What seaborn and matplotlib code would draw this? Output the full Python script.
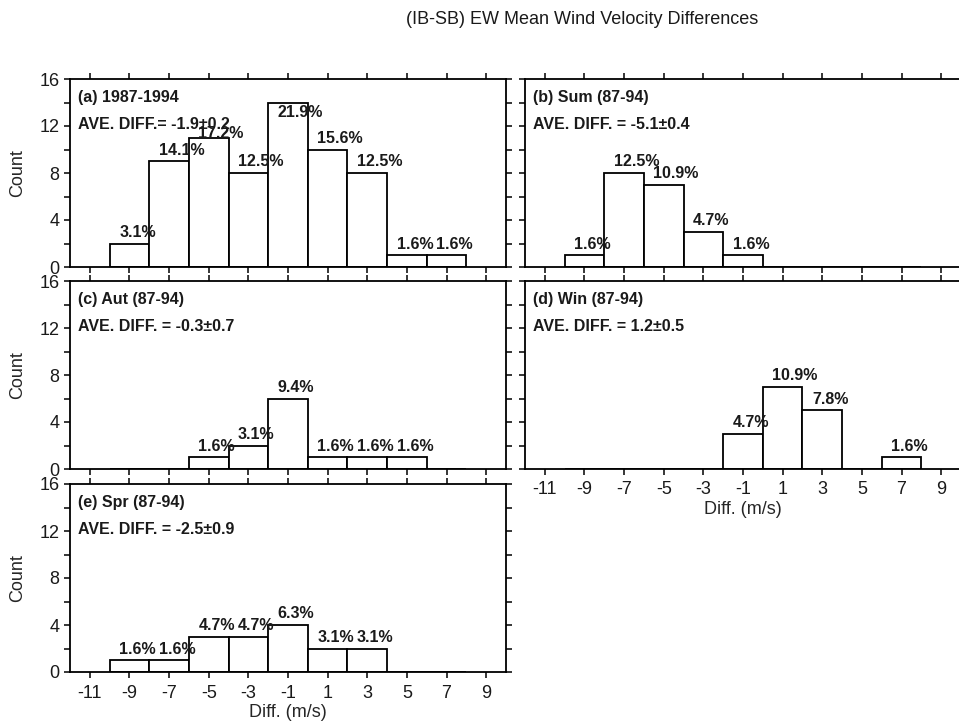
import numpy as np
import pandas as pd
import matplotlib
matplotlib.use("Agg")
import matplotlib.pyplot as plt
import seaborn as sns

# ---------------- data ----------------
title = "(IB-SB) EW Mean Wind Velocity Differences"
bin_edges = [-10, -8, -6, -4, -2, 0, 2, 4, 6, 8]

a_centers = [-9, -7, -5, -3, -1, 1, 3, 5, 7]
a_counts = [2, 9, 11, 8, 14, 10, 8, 1, 1]
a_pcts = ["3.1%", "14.1%", "17.2%", "12.5%", "21.9%", "15.6%", "12.5%", "1.6%", "1.6%"]

b_centers = [-9, -7, -5, -3, -1]
b_counts = [1, 8, 7, 3, 1]
b_pcts = ["1.6%", "12.5%", "10.9%", "4.7%", "1.6%"]

c_centers = [-5, -3, -1, 1, 3, 5]
c_counts = [1, 2, 6, 1, 1, 1]
c_pcts = ["1.6%", "3.1%", "9.4%", "1.6%", "1.6%", "1.6%"]

d_centers = [-1, 1, 3, 7]
d_counts = [3, 7, 5, 1]
d_pcts = ["4.7%", "10.9%", "7.8%", "1.6%"]

e_centers = [-9, -7, -5, -3, -1, 1, 3]
e_counts = [1, 1, 3, 3, 4, 2, 2]
e_pcts = ["1.6%", "1.6%", "4.7%", "4.7%", "6.3%", "3.1%", "3.1%"]

panel_titles = ["(a) 1987-1994", "(b) Sum (87-94)", "(c) Aut (87-94)",
                "(d) Win (87-94)", "(e) Spr (87-94)"]
ave_texts = ["AVE. DIFF.= -1.9\u00b10.2", "AVE. DIFF. = -5.1\u00b10.4",
             "AVE. DIFF. = -0.3\u00b10.7", "AVE. DIFF. = 1.2\u00b10.5",
             "AVE. DIFF. = -2.5\u00b10.9"]
x_ticks = [-11, -9, -7, -5, -3, -1, 1, 3, 5, 7, 9]
y_ticks = [0, 4, 8, 12, 16]
y_minor = [2, 6, 10, 14]
x_label = "Diff. (m/s)"
y_label = "Count"

# ---------------- style ----------------
sns.set_theme(style="ticks")
plt.rcParams["font.family"] = ["Liberation Sans", "DejaVu Sans"]
plt.rcParams["axes.linewidth"] = 1.2
plt.rcParams["axes.unicode_minus"] = False
plt.rcParams["text.color"] = "#1a1a1a"

W, H = 959, 726
fig = plt.figure(figsize=(W / 100, H / 100), dpi=100)
fig.patch.set_facecolor("white")


def px_axes(l, t, w, h):
    return fig.add_axes([l / W, 1 - (t + h) / H, w / W, h / H])


layout = [(70, 79), (525, 79), (70, 281), (525, 281), (70, 484)]
panels = [(a_centers, a_counts, a_pcts), (b_centers, b_counts, b_pcts),
          (c_centers, c_counts, c_pcts), (d_centers, d_counts, d_pcts),
          (e_centers, e_counts, e_pcts)]
# special label offsets (points) for overlapping labels in panel (a)
label_dy = {(0, 2): 0.0, (0, 4): -10.5}

for i, ((l, t), (cent, cnt, pct)) in enumerate(zip(layout, panels)):
    ax = px_axes(l, t, 436, 188)
    df = pd.DataFrame({"diff": cent, "count": cnt})
    sns.histplot(data=df, x="diff", weights="count", bins=bin_edges, ax=ax,
                 color="white", edgecolor="black", linewidth=1.3, alpha=1)
    ax.set_xlim(-12, 10)
    ax.set_ylim(0, 16)
    ax.set_xticks(x_ticks)
    ax.set_yticks(y_ticks)
    ax.set_yticks(y_minor, minor=True)
    ax.tick_params(axis="both", which="both", direction="out", length=4.5,
                   width=1.1, color="black", top=True, right=True,
                   labelsize=13, labelcolor="#1a1a1a")
    ax.tick_params(axis="y", pad=3)
    ax.tick_params(axis="x", pad=4.5)
    for s in ax.spines.values():
        s.set_color("black")
        s.set_linewidth(1.3)
    if i in (0, 2, 4):
        ax.set_ylabel(y_label, fontsize=13)
        ax.yaxis.set_label_coords(-0.10, 0.5)
    else:
        ax.set_ylabel("")
        ax.tick_params(axis="y", labelleft=False)
    if i in (3, 4):
        ax.set_xlabel(x_label, fontsize=13)
        ax.xaxis.set_label_coords(0.5, -0.17)
    else:
        ax.set_xlabel("")
        ax.tick_params(axis="x", labelbottom=False)

    ax.text(0.018, 0.90, panel_titles[i], transform=ax.transAxes,
            fontsize=11.5, fontweight="bold", va="center", ha="left")
    ax.text(0.018, 0.76, ave_texts[i], transform=ax.transAxes,
            fontsize=11.5, fontweight="bold", va="center", ha="left")

    for j, (c, n, p) in enumerate(zip(cent, cnt, pct)):
        dy = label_dy.get((i, j), 4.8) if i == 0 else 4.8
        ax.annotate(p, xy=(c - 0.52, n), xytext=(0, dy),
                    textcoords="offset points", ha="left", va="baseline",
                    fontsize=11.5, fontweight="bold")

fig.text(582 / W, 1 - 20 / H, title, ha="center", va="center", fontsize=13)

fig.savefig("out.png", dpi=100, facecolor="white")
